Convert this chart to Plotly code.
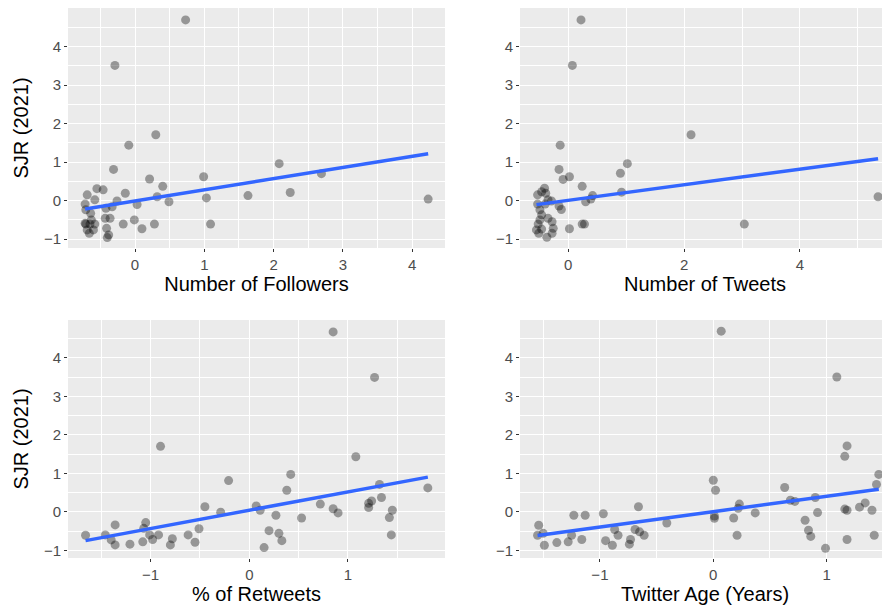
import plotly.graph_objects as go

# ---------------- data ----------------
followers_x = [0.73, -0.29, 0.30, -0.09, 2.08, -0.31, 2.69, 0.99, 0.21, 0.40, -0.55, -0.46,
               -0.14, -0.69, 0.32, 2.24, 1.63, 1.03, 4.23, -0.26, 0.49, 0.03, -0.58, -0.42,
               -0.33, -0.72, -0.71, -0.64, -0.43, -0.36, -0.01, -0.17, 0.28, 1.09, 0.10,
               -0.41, -0.38, -0.40, -0.71, -0.65, -0.69, -0.66, -0.60, -0.63, -0.58, -0.72]
followers_y = [4.69, 3.51, 1.71, 1.44, 0.96, 0.81, 0.70, 0.62, 0.56, 0.37, 0.31, 0.28,
               0.19, 0.15, 0.10, 0.21, 0.13, 0.07, 0.04, -0.01, -0.03, -0.10, 0.02, -0.20,
               -0.16, -0.09, -0.24, -0.33, -0.46, -0.46, -0.50, -0.61, -0.61, -0.61, -0.73,
               -0.72, -0.89, -0.96, -0.61, -0.61, -0.76, -0.85, -0.76, -0.50, -0.61, -0.59]

tweets_x = [0.22, 0.07, 2.12, -0.14, 1.02, 0.90, -0.16, 0.02, -0.09, 0.24, 0.92, 0.42,
            0.39, 0.30, 5.35, 3.04, 0.02, 0.24, 0.28, -0.29, -0.16, -0.12, -0.41, -0.46,
            -0.39, -0.53, -0.53, -0.49, -0.46, -0.35, -0.28, -0.26, -0.28, -0.37, -0.52,
            -0.49, -0.55, -0.51, -0.46, -0.40, -0.35]
tweets_y = [4.69, 3.51, 1.71, 1.44, 0.96, 0.71, 0.81, 0.62, 0.55, 0.37, 0.22, 0.13,
            0.04, -0.03, 0.10, -0.61, -0.73, -0.61, -0.61, -0.01, -0.14, -0.23, 0.32, 0.23,
            0.19, 0.15, -0.09, -0.24, -0.37, -0.46, -0.55, -0.72, -0.85, -0.95, -0.61,
            -0.50, -0.76, -0.85, -0.74, -0.09, 0.02]

retweets_x = [0.85, 1.27, -0.90, 1.08, 0.42, -0.21, 0.38, 1.32, 1.81, 1.34, 1.24, 1.21,
              1.21, 0.72, 0.85, 0.90, 1.45, 1.42, 1.44, 0.53, 0.07, 0.11, 0.27, 0.20,
              0.30, 0.33, 0.15, -0.29, -0.45, -0.51, -0.62, -0.55, -0.78, -0.80, -0.92,
              -0.98, -1.01, -1.05, -1.07, -1.08, -1.21, -1.36, -1.36, -1.40, -1.46, -1.66]
retweets_y = [4.67, 3.49, 1.70, 1.43, 0.97, 0.81, 0.56, 0.71, 0.62, 0.37, 0.28, 0.22,
              0.11, 0.20, 0.08, -0.03, 0.04, -0.15, -0.60, -0.16, 0.15, 0.04, -0.09, -0.49,
              -0.56, -0.75, -0.93, -0.01, 0.13, -0.44, -0.60, -0.79, -0.70, -0.86, -0.60,
              -0.72, -0.60, -0.28, -0.43, -0.78, -0.84, -0.34, -0.86, -0.73, -0.60, -0.61]

age_x = [0.07, 1.09, 1.18, 1.16, 1.46, 1.44, 0.00, 0.02, 0.63, 0.68, 0.72, 0.90, 0.92,
         0.81, 0.84, 0.86, 0.99, 1.16, 1.18, 1.18, 1.29, 1.34, 1.40, 1.42, 0.23, 0.22,
         0.18, 0.21, 0.01, 0.01, 0.37, -0.41, -0.66, -0.69, -0.65, -0.61, -0.73, -0.74,
         -0.97, -0.87, -0.84, -0.95, -0.89, -1.13, -1.23, -1.25, -1.16, -1.28, -1.38,
         -1.49, -1.54, -1.55, -1.50]
age_y = [4.69, 3.50, 1.71, 1.44, 0.97, 0.71, 0.82, 0.56, 0.63, 0.30, 0.27, 0.37, -0.02,
         -0.22, -0.48, -0.64, -0.95, 0.07, 0.04, -0.72, 0.12, 0.23, 0.04, -0.61, 0.20, 0.09,
         -0.16, -0.61, -0.11, -0.17, -0.03, -0.29, 0.13, -0.46, -0.52, -0.61, -0.72, -0.84,
         -0.05, -0.46, -0.61, -0.75, -0.87, -0.09, -0.09, -0.61, -0.72, -0.78, -0.80,
         -0.87, -0.35, -0.61, -0.56]

x_titles = ["Number of Followers", "Number of Tweets", "% of Retweets", "Twitter Age (Years)"]
y_title = "SJR (2021)"

# linear-fit lines
fit_slope = [0.29, 0.202, 0.475, 0.398]
fit_intercept = [-0.01, 0.007, 0.04, 0.003]

x_ticks = [[0, 1, 2, 3, 4], [0, 2, 4], [-1, 0, 1], [-1, 0, 1]]
y_ticks = [-1, 0, 1, 2, 3, 4]

# ---------------- figure ----------------
panels = [(followers_x, followers_y), (tweets_x, tweets_y),
          (retweets_x, retweets_y), (age_x, age_y)]

fig = go.Figure()

for i, (xs, ys) in enumerate(panels):
    ax = "" if i == 0 else str(i + 1)
    fig.add_trace(go.Scatter(
        x=xs, y=ys, mode="markers", xaxis="x" + ax, yaxis="y" + ax,
        marker=dict(size=9, color="rgba(0,0,0,0.36)", line=dict(width=0)),
        showlegend=False, hoverinfo="skip"))
    x0, x1 = min(xs), max(xs)
    fig.add_trace(go.Scatter(
        x=[x0, x1],
        y=[fit_intercept[i] + fit_slope[i] * x0, fit_intercept[i] + fit_slope[i] * x1],
        mode="lines", xaxis="x" + ax, yaxis="y" + ax,
        line=dict(color="#3366FF", width=3.5),
        showlegend=False, hoverinfo="skip"))

# the page body adds an 8 px offset, so the figure is 882 x 604
W, H = 882, 604
x_domains = [[60 / W, 437 / W], [512 / W, 1.0], [60 / W, 437 / W], [512 / W, 1.0]]
y_domains = [[1 - 240 / H, 1.0], [1 - 240 / H, 1.0],
             [1 - 550 / H, 1 - 312 / H], [1 - 550 / H, 1 - 312 / H]]
x_ranges = [[-0.967, 4.473], [-0.834, 5.556], [-1.838, 1.984], [-1.705, 1.559]]
y_ranges = [[-1.23, 5.0], [-1.23, 5.0], [-1.2, 4.98], [-1.2, 4.98]]
x_minor = [0.5, 1.0, 0.5, 0.5]

tick_font = dict(family="Liberation Sans, Arial, sans-serif", size=15, color="#4D4D4D")
title_font = dict(family="Liberation Sans, Arial, sans-serif", size=20, color="#000000")

layout = dict(
    width=W, height=H,
    margin=dict(l=0, r=0, t=0, b=0),
    paper_bgcolor="white", plot_bgcolor="#EBEBEB",
    showlegend=False,
)

for i in range(4):
    ax = "" if i == 0 else str(i + 1)
    layout["xaxis" + ax] = dict(
        domain=x_domains[i], range=x_ranges[i], anchor="y" + ax,
        tickmode="array", tickvals=x_ticks[i], ticktext=[str(t).replace("-", "\u2212") for t in x_ticks[i]],
        showgrid=True, gridcolor="white", gridwidth=1.3,
        minor=dict(tick0=0, dtick=x_minor[i], showgrid=True, gridcolor="white", gridwidth=0.6),
        ticks="outside", ticklen=3, tickwidth=1, tickcolor="#333333",
        tickfont=tick_font, zeroline=False, showline=False,
        title=dict(text=x_titles[i], font=title_font, standoff=2),
        fixedrange=True,
    )
    layout["yaxis" + ax] = dict(
        domain=y_domains[i], range=y_ranges[i], anchor="x" + ax,
        tickmode="array", tickvals=y_ticks, ticktext=[str(t).replace("-", "\u2212") for t in y_ticks],
        showgrid=True, gridcolor="white", gridwidth=1.3,
        minor=dict(tick0=0, dtick=0.5, showgrid=True, gridcolor="white", gridwidth=0.6),
        ticks="outside", ticklen=3, tickwidth=1, tickcolor="#333333",
        tickfont=tick_font, zeroline=False, showline=False,
        title=dict(text=y_title if i in (0, 2) else "", font=title_font, standoff=9),
        fixedrange=True,
    )

fig.update_layout(**layout)
fig.write_html("out.html")
